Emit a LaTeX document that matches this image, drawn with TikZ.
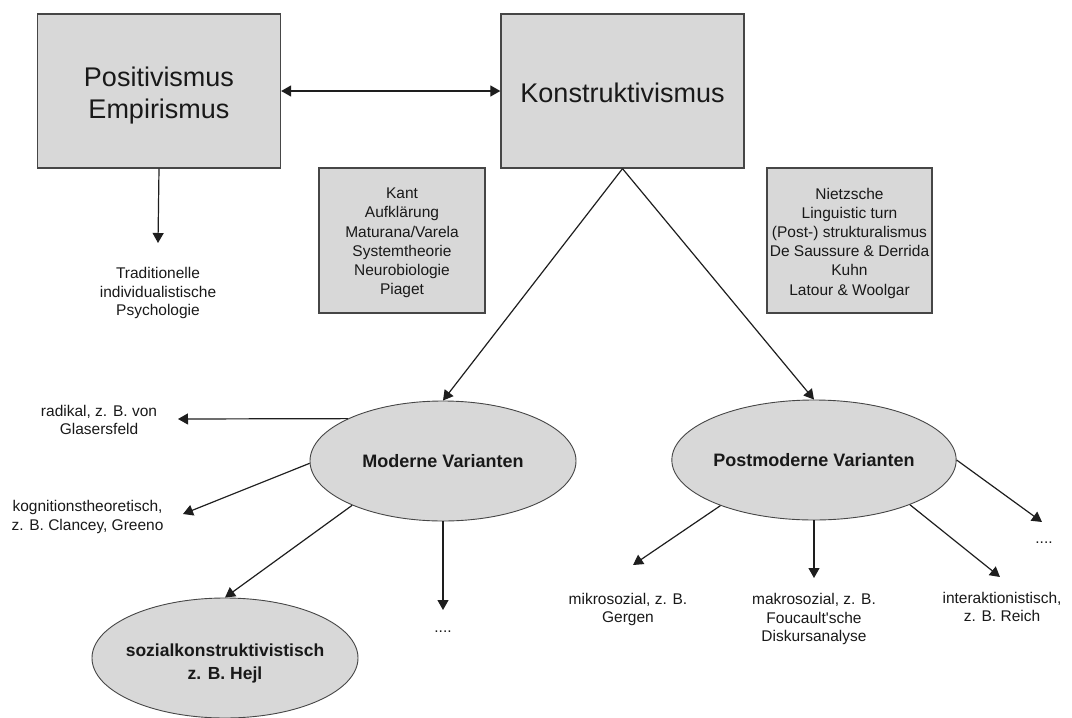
\documentclass[tikz,border=0pt]{standalone}
\usepackage{fontspec}
\setmainfont{Liberation Sans}
\usetikzlibrary{shapes.geometric,arrows.meta}
\definecolor{boxfill}{RGB}{216,216,216}
\definecolor{edge}{RGB}{70,70,70}
\definecolor{wire}{RGB}{30,30,30}
\definecolor{ink}{RGB}{25,25,25}
\begin{document}
\begin{tikzpicture}[x=1pt,y=-1pt,
  bigbox/.style={draw=edge, line width=1.3pt, fill=boxfill, minimum width=243pt,
    minimum height=154pt, inner sep=0pt},
  bigtext/.style={align=center, inner sep=0pt, text=ink,
    font=\fontsize{27}{32}\selectfont},
  notebox/.style={draw=edge, line width=1.2pt, fill=boxfill, minimum width=166pt,
    minimum height=145pt, inner sep=0pt},
  notetext/.style={align=center, inner sep=0pt, text=ink,
    font=\fontsize{15.5}{19.2}\selectfont},
  variant/.style={ellipse, draw=edge, line width=0.9pt, fill=boxfill,
    minimum width=266pt, minimum height=120pt, inner sep=0pt, align=center,
    text=ink, font=\bfseries\fontsize{18}{23}\selectfont},
  lbl/.style={align=center, inner sep=0pt, text=ink,
    font=\fontsize{15.5}{18.5}\selectfont},
  tip/.tip={Triangle[length=10pt,width=11pt]},
  arr/.style={draw=wire, line width=1.2pt, -tip},
  dblarr/.style={draw=wire, line width=1.2pt, tip-tip},
]
\useasboundingbox (0,0) rectangle (1072,718);

% main positions
\node[bigbox] (posit) at (159,91) {};
\node[bigtext] (posit-t) at ([yshift=-4.5pt]posit.center) {Positivismus\\Empirismus};
\node[bigbox] (konstr) at (622.5,91) {};
\node[bigtext] (konstr-t) at ([yshift=-2pt]konstr.center) {Konstruktivismus};

% influences
\node[notebox] (kant) at (402,240.5) {};
\node[notetext] (kant-t) at ([yshift=-2.5pt]kant.center)
  {Kant\\Aufklärung\\Maturana/Varela\\Systemtheorie\\Neurobiologie\\Piaget};
\node[notebox, minimum width=165pt] (nietz) at (849.5,240.5) {};
\node[notetext] (nietz-t) at ([yshift=-2.5pt]nietz.center)
  {Nietzsche\\Linguistic turn\\(Post-) strukturalismus\\De Saussure \& Derrida\\Kuhn\\Latour \& Woolgar};

% variants
\node[variant] (modern) at (443,461) {Moderne Varianten};
\node[variant] (postmod) at (814,460) {Postmoderne Varianten};
\node[variant] (sozial) at (225,658) {};
\node[align=center, inner sep=0pt, text=ink, font=\bfseries\fontsize{17.5}{23}\selectfont]
  (sozial-t) at ([yshift=-5.5pt]sozial.center) {sozialkonstruktivistisch\\z. B. Hejl};

% labels
\node[lbl] (trad) at (158,293) {Traditionelle\\individualistische\\Psychologie};
\node[lbl] (radikal) at (99,420) {radikal, z. B. von\\Glasersfeld};
\node[lbl] (kogn) at (87.5,517) {kognitionstheoretisch,\\z. B. Clancey, Greeno};
\node[lbl] (mdots) at (443,632) {....};
\node[lbl] (mikro) at (628,609.5) {mikrosozial, z. B.\\Gergen};
\node[lbl] (makro) at (814,619) {makrosozial, z. B.\\Foucault\textquotesingle sche\\Diskursanalyse};
\node[lbl] (inter) at (1002,607) {interaktionistisch,\\z. B. Reich};
\node[lbl] (pdots) at (1044,543) {....};

% connectors
\draw[dblarr] (posit.east) -- (konstr.west);
\draw[arr] (posit.south) -- ([yshift=50pt]trad.center);
\draw[arr] (konstr.south) -- (modern.north);
\draw[arr] (konstr.south) -- (postmod.north);

\draw[arr] (modern.156) -- ([xshift=79pt,yshift=1pt]radikal.center);
\draw[arr] (modern.181) -- ([xshift=95.5pt,yshift=3pt]kogn.center);
\draw[arr] (modern.206) -- (sozial.north);
\draw[arr] (modern.south) -- ([yshift=22pt]mdots.center);

\draw[arr] (postmod.206) -- ([xshift=5pt,yshift=44.5pt]mikro.center);
\draw[arr] (postmod.south) -- ([yshift=41pt]makro.center);
\draw[arr] (postmod.335) -- ([xshift=-2pt,yshift=30pt]inter.center);
\draw[arr] (postmod.east) -- ([xshift=-2pt,yshift=21pt]pdots.center);
\end{tikzpicture}
\end{document}
